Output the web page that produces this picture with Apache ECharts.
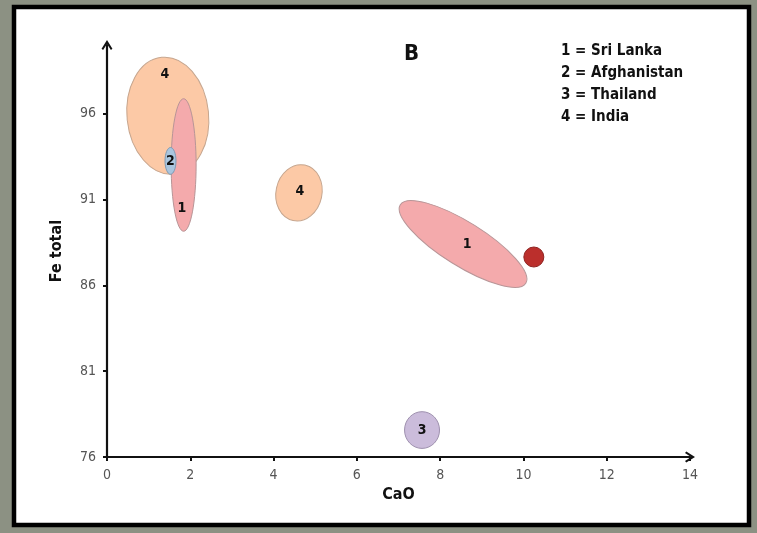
<!DOCTYPE html>
<html>
<head>
<meta charset="utf-8">
<script src="https://cdn.jsdelivr.net/npm/echarts@6/dist/echarts.min.js"></script>
<style>
html,body{margin:0;padding:0;background:#8c9183;}
#chart{width:757px;height:533px;}
</style>
</head>
<body>
<div id="chart"></div>
<script>
// ---- data ----
const xTicks = [0, 2, 4, 6, 8, 10, 12, 14];
const yTicks = [76, 81, 86, 91, 96];
const xName = 'CaO';
const yName = 'Fe total';
const panelTitle = 'B';
const legendLines = ['1 = Sri Lanka', '2 = Afghanistan', '3 = Thailand', '4 = India'];

// ellipses (fields): group number, center CaO, center Fe, semi-axis x, semi-axis y, tilt deg, label CaO, label Fe
const ellipseGroup = [4, 1, 2, 4, 1, 3];
const ellipseCX    = [1.46, 1.84, 1.525, 4.61, 8.55, 7.565];
const ellipseCY    = [95.88, 93.01, 93.25, 91.39, 88.41, 77.57];
const ellipseRX    = [0.98, 0.30, 0.132, 0.552, 1.777, 0.42];
const ellipseRY    = [3.42, 3.86, 0.78, 1.65, 1.275, 1.07];
const ellipseTilt  = [6, 0, 0, -12, -32, 0];
const labelX       = [1.39, 1.80, 1.525, 4.63, 8.65, 7.565];
const labelY       = [98.3, 90.49, 93.25, 91.45, 88.41, 77.57];

// single point
const pointX = [10.25];
const pointY = [87.65];

// ---- styles ----
const FONT = '"Liberation Sans Narrow", "DejaVu Sans Condensed", "Liberation Sans", sans-serif';
const fills   = {1: '#f4aaac', 2: '#a9c5de', 3: '#cbbcdb', 4: '#fcc9a6'};
const strokes = {1: '#b89597', 2: '#7e9ab4', 3: '#9e90ae', 4: '#c6a68f'};

const ellipseData = ellipseGroup.map((g, i) => [ellipseCX[i], ellipseCY[i], ellipseRX[i], ellipseRY[i], ellipseTilt[i], labelX[i], labelY[i], g]);

const chart = echarts.init(document.getElementById('chart'), null, {renderer: 'canvas'});
const arrowPath = 'path://M5,0 L10,8 L8.6,9.2 L5,3.6 L1.4,9.2 L0,8 Z';

const option = {
  backgroundColor: '#8c9183',
  animation: false,
  graphic: [
    {type: 'rect', z: -10, shape: {x: 14, y: 7, width: 735, height: 518}, style: {fill: '#ffffff', stroke: '#000000', lineWidth: 4.5}},
    {type: 'text', left: 404, top: 43, style: {text: panelTitle, font: 'bold 22px ' + FONT, fill: '#111'}},
    ...legendLines.map((t, i) => ({type: 'text', left: 561, top: 44 + i * 22, style: {text: t, font: 'bold 15px ' + FONT, fill: '#111'}}))
  ],
  grid: {left: 107, right: 67, top: 45, bottom: 76, containLabel: false},
  xAxis: {
    type: 'value', min: 0, max: 14,
    name: xName, nameLocation: 'middle', nameGap: 29,
    nameTextStyle: {fontFamily: FONT, fontWeight: 'bold', fontSize: 16, color: '#111'},
    axisLine: {show: true, onZero: false, symbol: ['none', arrowPath], symbolSize: [11, 10], lineStyle: {color: '#111', width: 2.2}},
    axisTick: {show: true, customValues: xTicks, length: 4, inside: false, lineStyle: {color: '#111', width: 2}},
    axisLabel: {customValues: xTicks, margin: 11, fontFamily: FONT, fontSize: 14, color: '#555'},
    splitLine: {show: false}
  },
  yAxis: {
    type: 'value', min: 76, max: 100,
    name: yName, nameLocation: 'middle', nameGap: 42, nameRotate: 90,
    nameTextStyle: {fontFamily: FONT, fontWeight: 'bold', fontSize: 16, color: '#111'},
    axisLine: {show: true, onZero: false, symbol: ['none', arrowPath], symbolSize: [11, 10], lineStyle: {color: '#111', width: 2.2}},
    axisTick: {show: true, customValues: yTicks, length: 4, inside: false, lineStyle: {color: '#111', width: 2}},
    axisLabel: {customValues: yTicks, margin: 11, fontFamily: FONT, fontSize: 14, color: '#555'},
    splitLine: {show: false}
  },
  series: [
    {
      type: 'custom',
      data: ellipseData,
      renderItem: function (params, api) {
        const c = api.coord([api.value(0), api.value(1)]);
        const s = api.size([api.value(2), api.value(3)]);
        const tilt = api.value(4);
        const lp = api.coord([api.value(5), api.value(6)]);
        const g = api.value(7);
        return {
          type: 'group',
          children: [
            {type: 'ellipse', x: c[0], y: c[1], rotation: tilt * Math.PI / 180,
              shape: {cx: 0, cy: 0, rx: s[0], ry: s[1]},
              style: {fill: fills[g], stroke: strokes[g], lineWidth: 1}},
            {type: 'text', x: lp[0], y: lp[1],
              style: {text: String(g), font: 'bold 14px ' + FONT, fill: '#111', align: 'center', verticalAlign: 'middle'}}
          ]
        };
      },
      encode: {x: 0, y: 1}
    },
    {
      type: 'scatter',
      data: pointX.map((x, i) => [x, pointY[i]]),
      symbolSize: 20,
      itemStyle: {color: '#bb2f2c', borderColor: '#8f2422', borderWidth: 1, opacity: 1},
      z: 5
    }
  ]
};
chart.setOption(option);
</script>
</body>
</html>
